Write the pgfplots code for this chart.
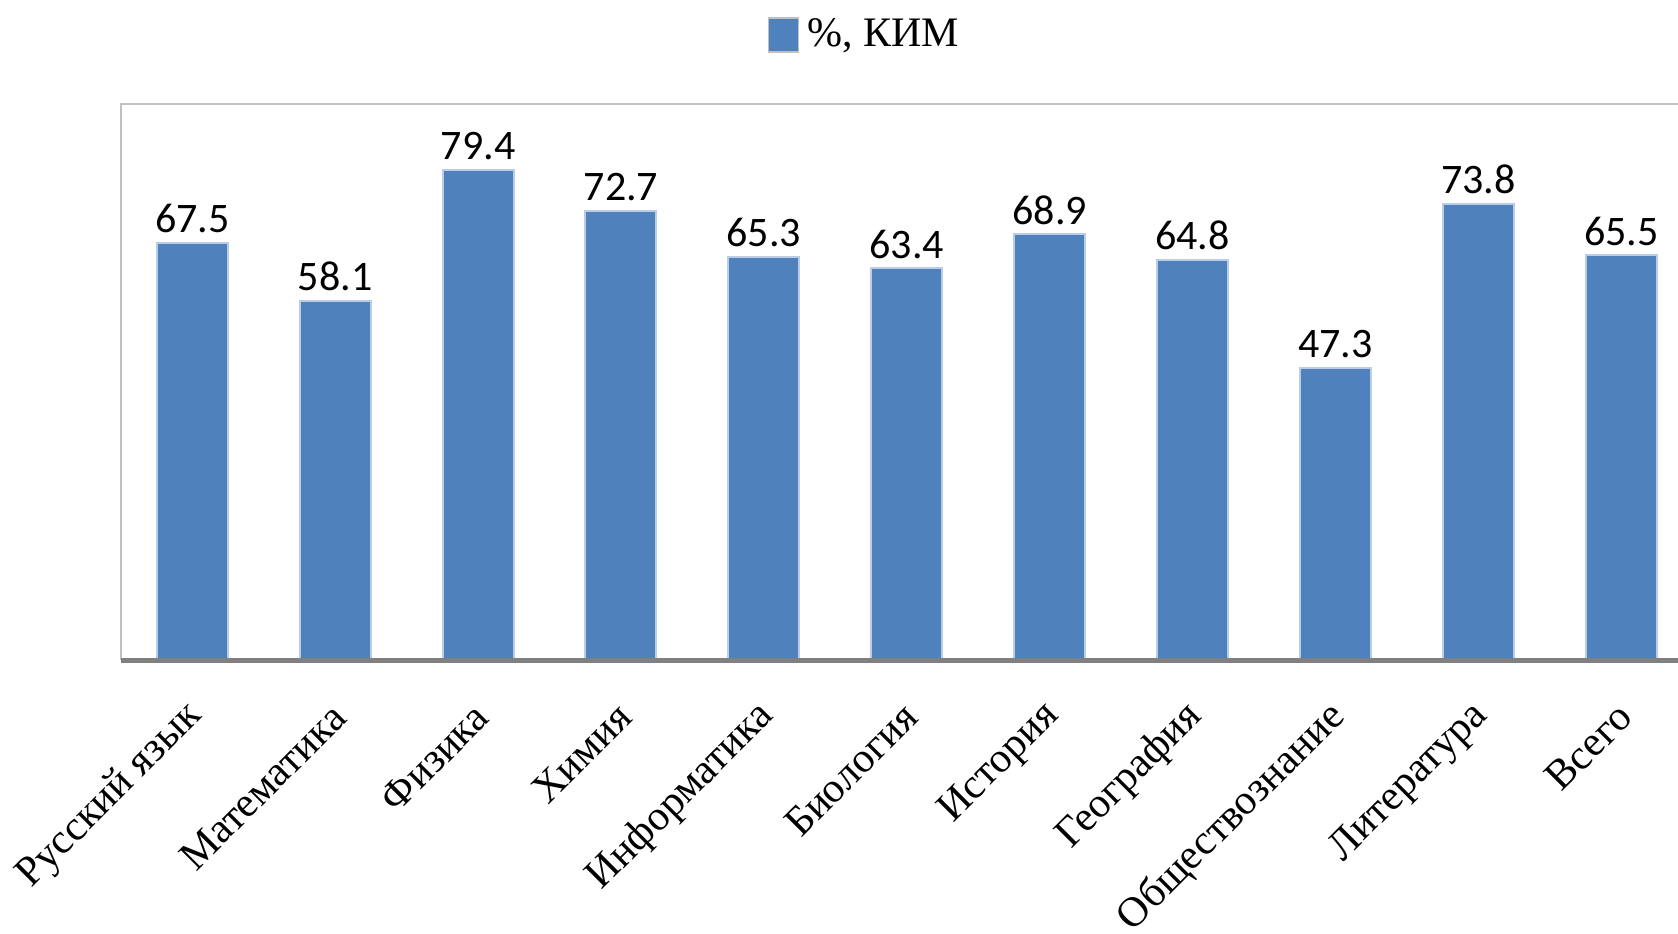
\documentclass[border=0pt]{standalone}
\usepackage{fontspec}
\setmainfont{Liberation Serif}
\newfontfamily\numfont{Carlito}
\usepackage{pgfplots}
\pgfplotsset{compat=1.18}
\definecolor{barblue}{HTML}{4F81BD}
\definecolor{baredge}{HTML}{B9CDE5}
\definecolor{framegray}{HTML}{C0C0C0}
\definecolor{axisgray}{HTML}{808080}
\begin{document}
\begin{tikzpicture}
\begin{axis}[
  at={(0,0)}, anchor=south west,
  scale only axis, width=393pt, height=139pt,
  xmin=-0.5, xmax=10.5, ymin=0, ymax=90,
  ybar, bar width=17.75pt,
  clip=false,
  axis line style={draw=none},
  ytick=\empty,
  xtick=data,
  xticklabels={Русский язык, Математика, Физика, Химия, Информатика, Биология, История, География, Обществознание, Литература, Всего},
  major tick length=0pt,
  xticklabel style={font=\fontsize{10.5}{12}\selectfont, xshift=1pt, yshift=-12.5pt, rotate=45, anchor=east, inner sep=0pt},
  nodes near coords={\pgfmathprintnumber[fixed,fixed zerofill,precision=1,assume math mode=true]{\pgfplotspointmeta}},
  every node near coord/.append style={font=\numfont\fontsize{10.5}{12}\selectfont, inner sep=0pt, yshift=2.25pt, black},
  legend style={at={(0.4748,1.124)}, anchor=center, draw=none, fill=none, font=\fontsize{10.5}{12}\selectfont},
  legend image code/.code={\draw[fill=barblue, draw=framegray, line width=0.4pt] (0pt,-4.25pt) rectangle (7.5pt,4.25pt);},
]
\addplot[fill=barblue, draw=baredge, line width=0.5pt] coordinates {
  (0,67.5) (1,58.1) (2,79.4) (3,72.7) (4,65.3) (5,63.4) (6,68.9) (7,64.8) (8,47.3) (9,73.8) (10,65.5)
};
\addlegendentry{\%, КИМ}
\draw[framegray, line width=0.5pt] (rel axis cs:0,0) -- (rel axis cs:0,1) -- (rel axis cs:1,1);
\draw[axisgray, line width=1.25pt] (rel axis cs:0,0) -- (rel axis cs:1,0);
\end{axis}
\pgfresetboundingbox
\useasboundingbox (-30.2pt,-68.25pt) rectangle (389.3pt,165pt);
\end{tikzpicture}
\end{document}
